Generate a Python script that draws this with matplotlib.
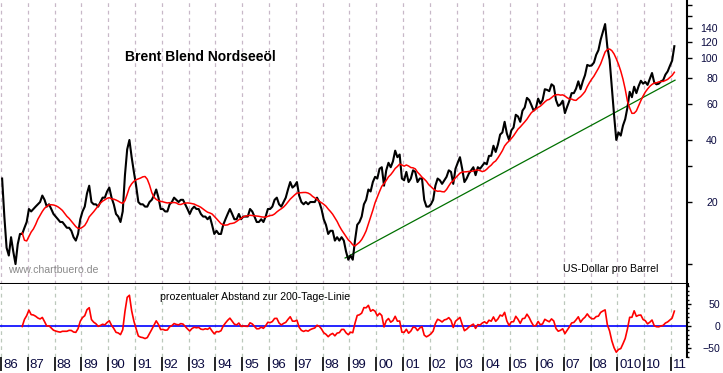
import matplotlib.pyplot as plt
import numpy as np
import pandas as pd
from matplotlib.ticker import MultipleLocator, NullLocator
from matplotlib.transforms import ScaledTranslation

plt.rcParams["font.family"] = ["Liberation Sans", "DejaVu Sans"]

# Brent, monthly values (USD per barrel), Jan 1986 .. Feb 2011
first_year = 1986
brent = [
    26, 17, 12, 11, 13.5, 11.5, 10, 12.5, 14, 14, 15, 16,  # 1986
    18.5, 18, 18.5, 19, 19.5, 20, 21.5, 20.5, 19, 19.5, 18.5, 17.5,  # 1987
    17, 16.5, 16, 16, 15.5, 15, 15, 14.5, 13.5, 13, 14, 16.5,  # 1988
    18, 19, 22, 24, 20, 19.5, 19.5, 19, 20, 21, 21, 22.5,  # 1989
    23.5, 21, 19.5, 17.5, 17, 16, 18, 27, 36, 40, 33, 28,  # 1990
    24, 20, 19.5, 19.5, 19, 19, 20, 20.5, 21.5, 23, 21, 18.5,  # 1991
    18.5, 18, 18, 19.5, 20, 21, 20.5, 20, 20.5, 20.5, 19.5, 18.5,  # 1992
    17.5, 18.5, 19, 18.5, 18.5, 17.5, 17, 17, 16.5, 17, 15.5, 14,  # 1993
    14.5, 14, 14, 15.5, 16.5, 17.5, 18.5, 17.5, 16.5, 16.5, 17.5, 16.5,  # 1994
    17, 17, 17, 18.5, 18, 17, 16, 16, 16.5, 16, 17, 18.5,  # 1995
    18.5, 19, 20.5, 21, 19.5, 19, 20, 21, 23, 25, 23.5, 24,  # 1996
    25, 21.5, 20, 19.5, 20, 19.5, 20, 20, 20, 21, 20, 18.5,  # 1997
    16.5, 15.5, 14, 14.5, 14.5, 13, 13.5, 13, 13.5, 13, 11.5, 10.5,  # 1998
    11, 10.5, 13, 15.5, 16, 17, 19.5, 20.5, 23, 22.5, 25, 26.5,  # 1999
    26, 29, 29.5, 24, 28.5, 31, 29.5, 31.5, 35.5, 33, 34, 26,  # 2000
    25.5, 28, 25, 26, 28.5, 28, 25, 26, 26, 20.5, 19, 19,  # 2001
    19.5, 20.5, 24, 26, 25.5, 24.5, 25.5, 26.5, 28.5, 28, 24.5, 29,  # 2002
    31, 33, 29, 25, 26, 27.5, 28.5, 29.5, 27, 29.5, 29, 30,  # 2003
    31, 30.5, 33.5, 33.5, 37.5, 35, 38, 42.5, 43.5, 49, 43, 40,  # 2004
    44.5, 46, 53, 52, 49, 55.5, 57.5, 64, 62.5, 59, 55.5, 57,  # 2005
    63.5, 60, 62.5, 70.5, 70, 69, 74.5, 73, 62.5, 58.5, 59.5, 62,  # 2006
    54, 58, 62, 67.5, 67.5, 71, 77, 70.5, 77, 82.5, 92.5, 91.5,  # 2007
    92, 95, 103.5, 109, 122.5, 134, 146, 113, 98, 72, 53, 40,  # 2008
    43.5, 42, 47, 50.5, 57.5, 68.5, 64.5, 72.5, 67.5, 73, 77.5, 75,  # 2009
    76.5, 74, 79, 84.5, 76, 74.5, 75, 77, 78, 83, 86, 91.5,  # 2010
    97, 114,  # 2011
]
ma_months = 10  # ~200 trading days

year_labels = ["86", "87", "88", "89", "90", "91", "92", "93", "94", "95", "96", "97", "98",
               "99", "00", "01", "02", "03", "04", "05", "06", "07", "08", "010", "10", "11"]

trend_years = [1998.84, 2011.15]
trend_values = [10.7, 78]

price_ticks = [10, 20, 30, 40, 60, 80, 100, 120, 140, 160, 180]
price_tick_labels = ["", "20", "", "40", "60", "80", "100", "120", "140", "", ""]
dev_ticks = [-50, 0, 50]

s = pd.Series(brent, dtype=float)
ma = s.rolling(ma_months).mean()
dev = (s / ma - 1) * 100
t = first_year + (np.arange(len(s)) + 0.5) / 12
years = np.arange(first_year, first_year + len(year_labels))

W, H = 723, 373
fig = plt.figure(figsize=(W / 100, H / 100), dpi=100)
ax1 = fig.add_axes([0, (H - 283.5) / H, 687 / W, 283.5 / H])
ax2 = fig.add_axes([0, 16 / H, 687 / W, (357 - 283.5) / H])

xlim = (1986 - 1 / 26.8, 1986 - 1 / 26.8 + 687 / 26.8)
label_col = "#0a0a40"

# price panel
ax1.plot(trend_years, trend_values, color="#007000", lw=0.9, zorder=2)
ax1.plot(t, s, color="black", lw=1.5, zorder=3)
ax1.plot(t, ma, color="#ff0000", lw=1.1, zorder=4)
ax1.set_yscale("log")
ax1.set_ylim(8.05, 191)
ax1.set_xlim(*xlim)
ax1.yaxis.set_minor_locator(NullLocator())
ax1.set_yticks(price_ticks, price_tick_labels)
ax1.yaxis.tick_right()
ax1.tick_params(axis="y", direction="out", length=3.6, width=1, pad=18.5, labelsize=7.6, labelcolor=label_col)
for lbl in ax1.get_yticklabels():
    lbl.set_horizontalalignment("right")
ax1.set_xticks(years)
ax1.tick_params(axis="x", length=0, labelbottom=False)
ax1.grid(axis="x", color="#c8b8c8", lw=0.9, linestyle=(0, (3, 3)))

for side in ["top", "left"]:
    ax1.spines[side].set_visible(False)
ax1.spines["right"].set_linewidth(1.5)
ax1.spines["bottom"].set_linewidth(2.2)

# deviation panel
ax2.axhline(0, color="#0000ff", lw=1.2, zorder=2)
ax2.plot(t, dev, color="#ff0000", lw=1.2, zorder=3)
ax2.set_xlim(*xlim)
ax2.set_ylim(-70.5, 96.6)
ax2.set_yticks(dev_ticks)
ax2.yaxis.set_minor_locator(MultipleLocator(10))
ax2.yaxis.tick_right()
ax2.tick_params(axis="y", which="major", direction="out", length=3, width=1, pad=21,
                labelsize=7.6, labelcolor=label_col)
ax2.tick_params(axis="y", which="minor", direction="out", length=1.6, width=1)
for lbl in ax2.get_yticklabels():
    lbl.set_horizontalalignment("right")

ax2.set_xticks(years, year_labels)
ax2.tick_params(axis="x", direction="out", length=10, width=1.2, pad=-8.6, labelsize=9.5, labelcolor=label_col)
shift = ScaledTranslation(2 / 100, 0, fig.dpi_scale_trans)
for lbl in ax2.get_xticklabels():
    lbl.set_horizontalalignment("left")
    lbl.set_transform(lbl.get_transform() + shift)
ax2.grid(axis="x", color="#bcc8bc", lw=0.9, linestyle=(0, (3, 3)))

for side in ["top", "left", "bottom"]:
    ax2.spines[side].set_visible(False)
ax2.spines["right"].set_linewidth(1.5)

# texts
fig.text(125 / W, (H - 57) / H, "Brent Blend Nordseeöl", fontsize=10, fontweight="bold", va="center")
fig.text(8 / W, (H - 270) / H, "www.chartbuero.de", fontsize=7.6, color="#8a8a8a", va="center")
fig.text(563 / W, (H - 269) / H, "US-Dollar pro Barrel", fontsize=7.6, va="center")
fig.text(160 / W, (H - 297) / H, "prozentualer Abstand zur 200-Tage-Linie", fontsize=7.6, va="center")

fig.savefig("out.png", dpi=100)
